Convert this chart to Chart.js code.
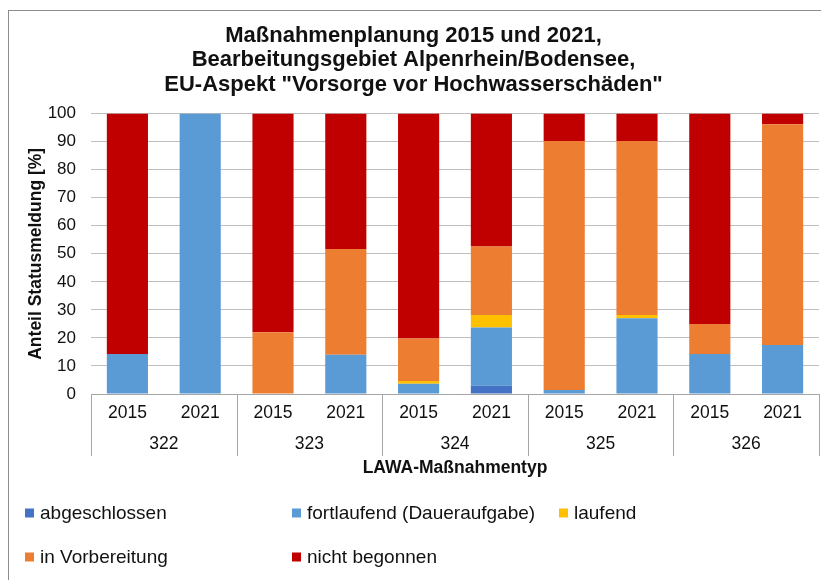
<!DOCTYPE html>
<html lang="de">
<head>
<meta charset="utf-8">
<title>Maßnahmenplanung 2015 und 2021</title>
<script src="https://cdn.jsdelivr.net/npm/chart.js@4/dist/chart.umd.min.js"></script>
<style>
  html, body { margin: 0; padding: 0; background: #fff; }
  canvas { display: block; }
</style>
</head>
<body>
<canvas id="massnahmenChart" width="821" height="580"></canvas>
<script>
const groups = ['322', '323', '324', '325', '326'];
const years = ['2015', '2021'];
const yTicks = [0, 10, 20, 30, 40, 50, 60, 70, 80, 90, 100];

// shares per bar in percent, order: 322/2015, 322/2021, 323/2015, ...
const abgeschlossen  = [0, 0, 0, 0, 0, 2.9, 0, 0, 0, 0];
const fortlaufend    = [14.3, 100, 0, 14, 3.7, 20.8, 1.4, 27, 14.3, 17.5];
const laufend        = [0, 0, 0, 0, 0.9, 4.5, 0, 1.2, 0, 0];
const inVorbereitung = [0, 0, 22, 37.7, 15.2, 24.4, 88.8, 62, 10.7, 78.7];
const nichtBegonnen  = [85.7, 0, 78, 48.3, 80.2, 47.4, 9.8, 9.8, 75, 3.8];

const seriesNames = ['abgeschlossen', 'fortlaufend (Daueraufgabe)', 'laufend', 'in Vorbereitung', 'nicht begonnen'];
const seriesColors = ['#4472C4', '#5B9BD5', '#FFC000', '#ED7D31', '#C00000'];

const textColor = '#111';
const fontFamily = '"Liberation Sans", Arial, sans-serif';

const barLabels = groups.flatMap(() => years);
const seriesValues = [abgeschlossen, fortlaufend, laufend, inVorbereitung, nichtBegonnen];

// white background plus the grey frame around the whole chart
const framePlugin = {
  id: 'frame',
  beforeDraw(chart) {
    const ctx = chart.ctx;
    ctx.save();
    ctx.fillStyle = '#fff';
    ctx.fillRect(0, 0, chart.width, chart.height);
    ctx.strokeStyle = '#8c8c8c';
    ctx.lineWidth = 1;
    ctx.strokeRect(8.5, 10.5, chart.width + 20, chart.height + 20);
    ctx.restore();
  }
};

// vertical dividers between the LAWA groups below the plot
const groupDividers = {
  id: 'groupDividers',
  afterDraw(chart) {
    const g = chart.scales.groups;
    const ctx = chart.ctx;
    const step = (g.right - g.left) / groups.length;
    const y0 = chart.chartArea.bottom;
    const y1 = g.top + 23;
    ctx.save();
    ctx.strokeStyle = '#a6a6a6';
    ctx.lineWidth = 1;
    ctx.beginPath();
    for (let i = 0; i <= groups.length; i++) {
      const x = Math.round(g.left + i * step) + 0.5;
      ctx.moveTo(x, y0);
      ctx.lineTo(x, y1);
    }
    ctx.stroke();
    ctx.restore();
  }
};

// legend laid out in a fixed three-column grid
const gridLegend = {
  id: 'gridLegend',
  afterDraw(chart) {
    const slots = [[25, 513], [292, 513], [559, 513], [25, 557], [292, 557]];
    const ctx = chart.ctx;
    ctx.save();
    ctx.font = '19px ' + fontFamily;
    ctx.textBaseline = 'middle';
    chart.data.datasets.forEach((ds, i) => {
      const [x, y] = slots[i];
      ctx.fillStyle = ds.backgroundColor;
      ctx.fillRect(x, y - 4.5, 9, 9);
      ctx.fillStyle = textColor;
      ctx.fillText(ds.label, x + 15, y + 1);
    });
    ctx.restore();
  }
};

new Chart(document.getElementById('massnahmenChart'), {
  type: 'bar',
  data: {
    labels: barLabels,
    datasets: seriesNames.map((name, i) => ({
      label: name,
      data: seriesValues[i],
      backgroundColor: seriesColors[i],
      borderWidth: 0,
      barPercentage: 0.565,
      categoryPercentage: 1,
      xAxisID: 'x',
      yAxisID: 'y'
    }))
  },
  options: {
    responsive: false,
    animation: false,
    layout: { padding: { top: 10, left: 8, right: 2, bottom: 101 } },
    plugins: {
      legend: { display: false },
      tooltip: { enabled: false },
      title: {
        display: true,
        text: ['Maßnahmenplanung 2015 und 2021,', 'Bearbeitungsgebiet Alpenrhein/Bodensee,', 'EU-Aspekt "Vorsorge vor Hochwasserschäden"'],
        color: textColor,
        font: { family: fontFamily, size: 22, weight: 'bold', lineHeight: 1.1 },
        padding: { top: 14, bottom: 17 }
      }
    },
    scales: {
      x: {
        stacked: true,
        position: 'bottom',
        weight: 0,
        grid: { display: false, drawTicks: false },
        border: { display: true, color: '#a6a6a6' },
        ticks: { color: textColor, padding: 9, maxRotation: 0, font: { family: fontFamily, size: 17.5 } }
      },
      groups: {
        type: 'category',
        labels: groups,
        offset: true,
        position: 'bottom',
        weight: 1,
        grid: { display: false, drawTicks: false },
        border: { display: false },
        ticks: { color: textColor, padding: 1, font: { family: fontFamily, size: 17.5 } },
        title: {
          display: true,
          text: 'LAWA-Maßnahmentyp',
          color: textColor,
          font: { family: fontFamily, size: 17.5, weight: 'bold' },
          padding: { top: 2, bottom: 0 }
        }
      },
      y: {
        stacked: true,
        min: 0,
        max: 100,
        afterBuildTicks(scale) { scale.ticks = yTicks.map(v => ({ value: v })); },
        afterFit(scale) { scale.width = 83; },
        grid: { color: '#bfbfbf', drawTicks: false },
        border: { display: false },
        ticks: { color: textColor, padding: 15, font: { family: fontFamily, size: 17 } },
        title: {
          display: true,
          text: 'Anteil Statusmeldung [%]',
          color: textColor,
          font: { family: fontFamily, size: 17.5, weight: 'bold' },
          padding: { top: 18, bottom: 0 }
        }
      }
    }
  },
  plugins: [framePlugin, groupDividers, gridLegend]
});
</script>
</body>
</html>
